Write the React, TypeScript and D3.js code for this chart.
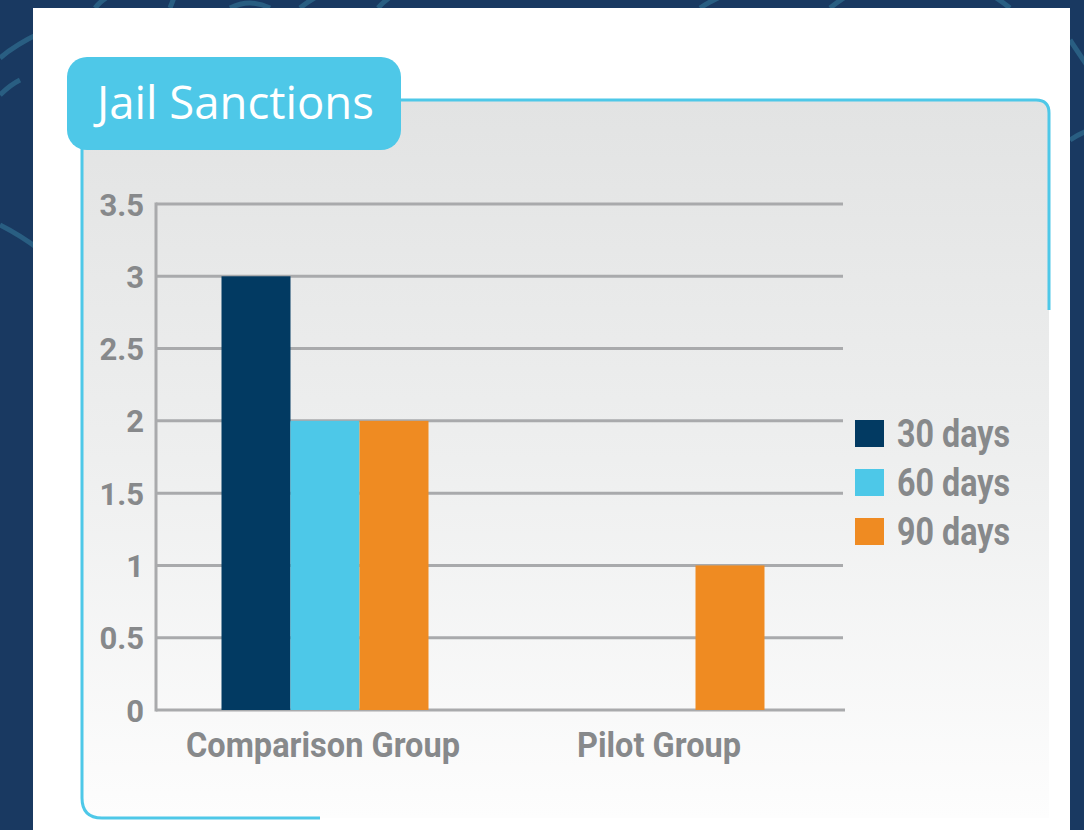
import React from 'react';
import * as d3 from 'd3';

const categories = ['Comparison Group', 'Pilot Group'];
const seriesNames = ['30 days', '60 days', '90 days'];
const values30 = [3, 0];
const values60 = [2, 0];
const values90 = [2, 1];
const yTicks = [0, 0.5, 1, 1.5, 2, 2.5, 3, 3.5];
const seriesColors = ['#023a62', '#4dc8e8', '#ef8b22'];
const chartTitle = 'Jail Sanctions';

const W = 1084;
const H = 830;
const condFont = 'Roboto, "Noto Sans", sans-serif';
const textGray = '#87898b';
const gridGray = '#a9aaac';
const cyan = '#4ec8e8';

function CondText(props: { x: number; y: number; anchor?: string; size: number; sq: number; children: React.ReactNode; dy?: string }) {
  return (
    <text
      transform={`translate(${props.x},${props.y}) scale(${props.sq},1)`}
      dy={props.dy}
      textAnchor={props.anchor || 'start'}
      fill={textGray}
      fontFamily={condFont}
      fontWeight={700}
      fontSize={props.size}
    >
      {props.children}
    </text>
  );
}

export default function App() {
  const series = [values30, values60, values90];
  const y = d3.scaleLinear().domain([0, 3.5]).range([710, 204]);
  const x = d3.scaleBand<string>().domain(categories).range([157, 829]).padding(0);
  const groupW = 207;
  const inner = d3.scaleBand<string>().domain(seriesNames).range([0, groupW]).padding(0);
  const plotLeft = 156;
  const plotRight = 843;

  return (
    <svg width={W} height={H} style={{ position: 'absolute', left: 0, top: 0, display: 'block' }}>
      <defs>
        <linearGradient id="panelGrad" x1="0" y1="0" x2="0" y2="1">
          <stop offset="0" stopColor="#e2e3e3" />
          <stop offset="0.5" stopColor="#eeefef" />
          <stop offset="1" stopColor="#fdfdfd" />
        </linearGradient>
      </defs>
      {/* background */}
      <rect x={0} y={0} width={W} height={H} fill="#193961" />
      <g fill="none" stroke="#2c6588" strokeWidth={5} opacity={0.85}>
        <path d="M0,58 Q15,45 40,33" />
        <path d="M0,225 Q20,235 40,250" />
        <path d="M95,8 Q105,-5 125,-10" />
        <path d="M170,8 L175,-5" />
        <path d="M230,8 Q250,-2 270,8" />
        <path d="M300,8 Q310,0 320,-5" />
        <path d="M378,8 Q385,0 395,-6" />
        <path d="M700,8 Q720,-5 740,-10" />
        <path d="M830,8 Q840,0 850,-6" />
        <path d="M1010,8 Q1000,0 990,-6" />
        <path d="M1070,40 Q1080,55 1090,70" />
        <path d="M1070,140 Q1080,133 1090,130" />
        <path d="M0,95 Q10,85 20,80" />
      </g>
      {/* card */}
      <rect x={33} y={8} width={1037} height={830} fill="#ffffff" />
      {/* panel */}
      <path d="M82,100 L1036,100 Q1049,100 1049,113 L1049,818 L102,818 Q82,818 82,798 Z" fill="url(#panelGrad)" />
      <g fill="none" stroke={cyan} strokeWidth={3}>
        <path d="M400,100 L1036,100 Q1049,100 1049,113 L1049,310" />
        <path d="M82,140 L82,798 Q82,818 102,818 L320,818" />
      </g>
      {/* title tab */}
      <rect x={67} y={57} width={334} height={93} rx={20} ry={20} fill={cyan} />
      <text x={97} y={119} fill="#ffffff" fontFamily='"Open Sans", sans-serif' fontSize={45.5}>{chartTitle}</text>

      {/* grid */}
      {yTicks.map((t) => (
        <line key={'g' + t} x1={plotLeft} x2={t === 0 ? plotRight + 2 : plotRight} y1={y(t)} y2={y(t)} stroke={gridGray} strokeWidth={3} />
      ))}
      <line x1={plotLeft} x2={plotLeft} y1={y(3.5) - 1.5} y2={y(0) + 1.5} stroke={gridGray} strokeWidth={3} />
      {yTicks.map((t) => (
        <CondText key={'t' + t} x={144} y={y(t)} dy="0.36em" anchor="end" size={32} sq={0.97}>
          {String(t)}
        </CondText>
      ))}

      {/* bars */}
      {categories.map((c, ci) => {
        const gx = (x(c) as number) + (x.bandwidth() - groupW) / 2;
        return (
          <g key={c}>
            {seriesNames.map((s, si) => {
              const v = series[si][ci];
              if (!v) return null;
              return (
                <rect key={s} x={gx + (inner(s) as number)} y={y(v)} width={inner.bandwidth()} height={y(0) - y(v)} fill={seriesColors[si]} />
              );
            })}
            <CondText x={(x(c) as number) + x.bandwidth() / 2 - 2} y={757} anchor="middle" size={35} sq={0.93}>
              {c}
            </CondText>
          </g>
        );
      })}

      {/* legend */}
      {seriesNames.map((s, i) => (
        <g key={s} transform={`translate(855,${420 + i * 49})`}>
          <rect x={0} y={0} width={29} height={27} fill={seriesColors[i]} />
          <CondText x={42} y={27} size={38} sq={0.85}>{s}</CondText>
        </g>
      ))}
    </svg>
  );
}
